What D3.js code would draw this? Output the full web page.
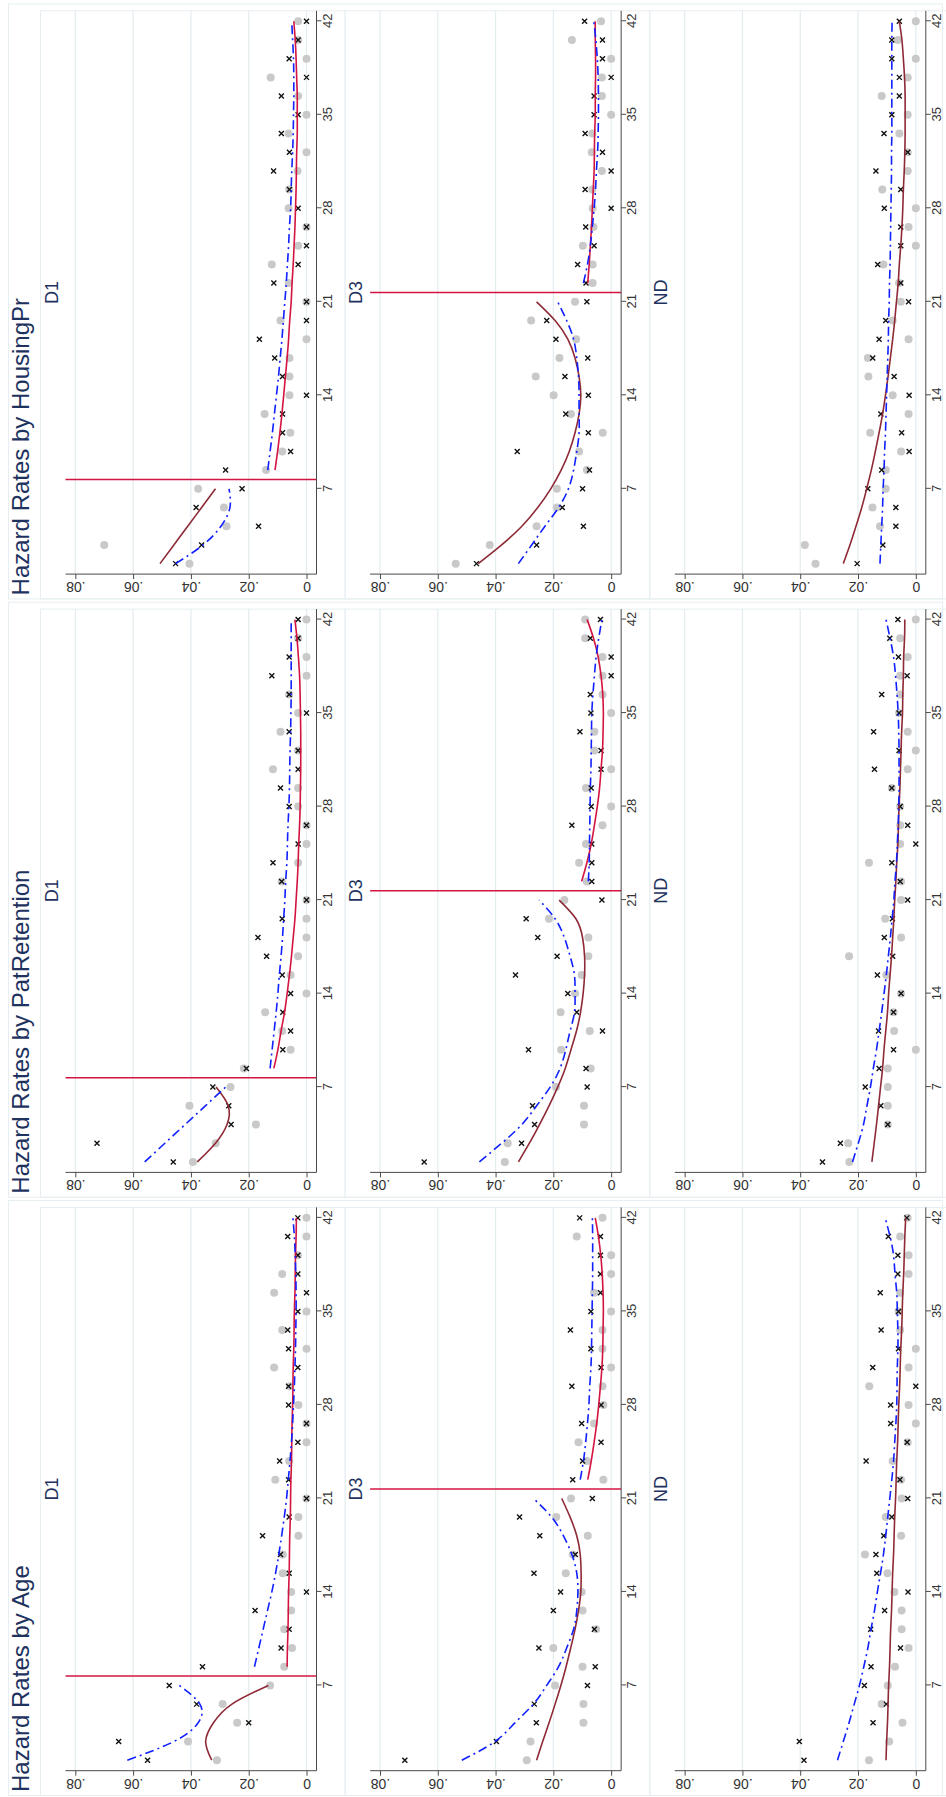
<!DOCTYPE html>
<html><head><meta charset="utf-8">
<script src="https://cdn.jsdelivr.net/npm/d3@7"></script>
<style>body{margin:0;background:#fff} svg{display:block} text{font-family:"Liberation Sans",Arial,sans-serif}</style>
</head><body>
<script>
// ---------- data ----------
const weeks = [1.4,2.8,4.2,5.6,7,8.4,9.8,11.2,12.6,14,15.4,16.8,18.2,19.6,21,22.4,23.8,25.2,26.6,28,29.4,30.8,32.2,33.6,35,36.4,37.8,39.2,40.6,42];
const weekTicks = [7,14,21,28,35,42];
const hazardTicks = [0,0.02,0.04,0.06,0.08];
const hazardTickLabels = ["0",".02",".04",".06",".08"];
const panelTitles = ["Hazard Rates by Age","Hazard Rates by PatRetention","Hazard Rates by HousingPr"];
const rowLabels = ["D1","D3","ND"];
const breakWeeks = [7.7, 21.7, null];

// Age
const ageD1Dots  = [.031,.041,.024,.029,.0126,.0077,.005,.0077,.0053,.0053,.0082,.0082,.0028,.0028,0,.0108,.006,0,0,.0028,.0057,.0112,0,.0084,0,.0112,.0084,.003,0,0];
const ageD1Cross = [.055,.065,.020,.038,.0475,.036,.0088,.006,.0178,0,.006,.009,.0152,.006,0,.0062,.0093,.003,0,.0062,.0062,.003,.0062,.0065,.003,0,.003,.003,.0065,.003];
const ageD1Red   = [.0328,.0349,.0322,.0258,.0132,.0067,.0066,.0064,.0063,.0062,.006,.0059,.0058,.0056,.0055,.0054,.0052,.0051,.005,.0048,.0047,.0046,.0044,.0043,.0042,.004,.0039,.0038,.0036,.0035];
const ageD1Blue  = [.062,.0459,.0375,.0369,.044,.018,.0165,.015,.0135,.012,.0107,.0096,.0086,.0077,.0069,.0063,.0057,.0052,.0048,.0045,.0042,.004,.0038,.0037,.0036,.0036,.0037,.0039,.0042,.0047];
const ageD3Dots  = [.0292,.0279,.0096,.0096,.0194,.0099,.020,.0052,.0099,.0102,.0157,.0133,.0081,.019,.0139,.0027,.0084,.0113,.0059,.0027,.003,0,.003,.003,0,.0059,0,0,.0119,.003];
const ageD3Cross = [.0714,.0397,.0259,.0266,.0082,.0055,.025,.0058,.020,.0175,.0267,.0124,.0247,.0317,.0065,.0133,.0099,.0035,.0102,.0035,.0136,.0035,.007,.0141,.007,.0037,.0037,.0037,.0037,.0109];
const ageD3Red   = [.0258,.0237,.0215,.0194,.0174,.0156,.014,.0125,.0113,.0105,.0104,.0107,.0119,.0142,.0171,.0081,.0069,.0059,.005,.0043,.0037,.0032,.0029,.0028,.0027,.0028,.0031,.0036,.0044,.0055];
const ageD3Blue  = [.0517,.0402,.0333,.0269,.0223,.0182,.0154,.013,.0119,.0115,.0119,.0136,.0165,.0206,.0269,.0107,.0096,.0088,.0082,.0077,.0074,.007,.0068,.0067,.0066,.0065,.0064,.0064,.0064,.0065];
const ageNDDots  = [.0162,.0092,.0046,.0118,.0097,.0072,.0025,.0049,.0049,.0074,.0098,.0176,.0051,.0104,.0049,.0051,.008,.0028,0,.0025,.0161,.0025,0,.0054,.006,.0054,.0025,.0025,.0054,.0028];
const ageNDCross = [.0387,.0403,.0148,.0102,.0178,.0155,.0053,.0156,.0108,.0027,.0135,.0138,.0111,.0083,.0028,.0055,.0172,.003,.0087,.0087,0,.0149,.006,.012,.006,.0123,.0062,.0062,.0095,.0031];
const ageNDRed   = [.0103,.0101,.0098,.0096,.0094,.0091,.0089,.0087,.0084,.0082,.008,.0077,.0075,.0073,.007,.0068,.0066,.0063,.0061,.0059,.0056,.0054,.0052,.0049,.0047,.0045,.0042,.004,.0038,.0035];
const ageNDBlue  = [.0271,.0251,.0231,.0213,.0195,.018,.0166,.0155,.0143,.0133,.0122,.0112,.0104,.0097,.009,.0083,.0077,.0073,.0069,.0066,.0065,.0064,.0062,.0062,.0064,.0066,.0072,.0077,.0089,.0106];
// PatRetention
const patD1Dots  = [.0393,.0314,.0175,.0405,.0263,.0217,.0055,.0084,.0143,0,.0055,.0029,0,0,0,.0086,.0029,0,0,.0029,.0029,.0116,.0029,.009,.0029,.006,0,0,.0029,0];
const patD1Cross = [.0461,.0725,.0261,.0269,.0324,.0208,.0082,.0055,.0082,.0055,.0084,.0138,.0168,.0084,0,.0086,.0116,.0029,0,.006,.009,.0029,.0029,.006,0,.006,.012,.006,.0029,.0029];
const patD1Red   = [.0378,.0315,.0275,.0271,.0313,.0113,.0099,.0088,.0076,.0067,.0059,.0052,.0046,.004,.0036,.0032,.0029,.0027,.0024,.0022,.0021,.002,.002,.002,.0021,.0022,.0024,.0028,.0033,.004];
const patD1Blue  = [.056,.049,.042,.035,.028,.0126,.0119,.0112,.0105,.0099,.0094,.0088,.0083,.0079,.0075,.0072,.0068,.0066,.0064,.0061,.0059,.0058,.0057,.0055,.0054,.0053,.0053,.0053,.0053,.0053];
const patD3Dots  = [.0368,.0358,.0094,.0094,.0191,.0071,.0173,.0074,.0175,.0125,.0102,.0079,.0079,.0215,.0162,.0084,.0111,.0087,.003,0,.0087,0,.0058,.0058,0,.003,.003,.003,.009,.009];
const patD3Cross = [.0647,.031,.0265,.0272,.0083,.0087,.0286,.003,.0119,.015,.0331,.0187,.0254,.0294,.0032,.0067,.0067,.0067,.0136,.0069,.0069,.0035,.0035,.0108,.007,.0072,0,0,.0072,.0037];
const patD3Red   = [.0321,.0283,.0248,.0215,.0185,.0159,.0139,.012,.0106,.0097,.0092,.0092,.0099,.0122,.018,.0102,.0084,.0069,.0058,.0048,.004,.0035,.003,.0028,.0027,.0029,.0035,.0045,.0061,.0083];
const patD3Blue  = [.0456,.0379,.0309,.0258,.0211,.0177,.0157,.0142,.0127,.0125,.0127,.0142,.0162,.0194,.0249,.0079,.0076,.0075,.0074,.0073,.0072,.007,.0069,.0068,.0067,.0063,.0058,.0052,.0043,.0032];
const patNDDots  = [.023,.0234,.0097,.0097,.0097,.0097,0,.0075,.0077,.0051,.0102,.0231,.0051,.0106,.0051,.0051,.0162,.0054,.0054,.0054,.0083,.0028,0,.0028,.0058,.0054,.0054,.0028,.0054,0];
const patNDCross = [.0323,.0261,.0097,.0121,.0175,.0127,.0077,.0129,.0077,.0051,.0133,.008,.0109,.0081,.0028,.0054,.0083,0,.0028,.0054,.0083,.0143,.0058,.0146,.0058,.0118,.003,.006,.009,.0062];
const patNDRed   = [.0152,.0144,.0136,.0129,.0122,.0115,.011,.0104,.0098,.0094,.0089,.0084,.008,.0076,.0073,.0069,.0066,.0062,.006,.0058,.0055,.0053,.0051,.0049,.0046,.0045,.0043,.0042,.0039,.0038];
const patNDBlue  = [.0219,.0199,.0181,.0169,.0157,.0147,.0136,.0127,.0118,.011,.0102,.0095,.0088,.0082,.0076,.0072,.0067,.0064,.0061,.0059,.0058,.0058,.0058,.0059,.0061,.0065,.007,.0077,.0089,.0103];
// HousingPr
const houD1Dots  = [.0405,.070,.0277,.0286,.0375,.014,.0084,.0056,.0145,.0059,.0059,.0059,0,.009,0,.0062,.012,.0029,0,.0062,.006,.0031,0,.0062,0,.0029,.0124,0,.0029,.0029];
const houD1Cross = [.0453,.0363,.0166,.0382,.0223,.028,.0055,.0083,.0083,0,.0083,.011,.0163,0,0,.0113,.0029,0,0,.0029,.0059,.0114,.0059,.0087,.0029,.0087,0,.006,.0029,0];
const houD1Red   = [.0507,.0459,.0411,.0363,.0315,.0109,.01,.0092,.0085,.0079,.0073,.0067,.0062,.0058,.0053,.005,.0046,.0043,.004,.0038,.0036,.0035,.0034,.0032,.0032,.0032,.0034,.0036,.0039,.0044];
const houD1Blue  = [.0453,.0358,.0296,.0265,.0268,.0134,.0126,.0118,.0111,.0104,.0097,.0091,.0085,.008,.0075,.007,.0066,.0062,.0059,.0055,.0053,.0051,.0048,.0046,.0045,.0044,.0044,.0045,.0048,.0051];
const houD3Dots  = [.0538,.042,.0258,.0188,.0188,.0084,.0111,.0029,.0139,.0199,.0261,.0179,.0121,.0277,.0125,.0064,.0064,.0098,.0061,.0064,.0065,.0032,.0067,.0065,0,.0032,.0032,0,.0136,.0035];
const houD3Cross = [.0466,.0258,.0096,.0169,.0099,.0075,.0325,.0079,.0157,.0079,.016,.0081,.0191,.0223,.0084,.0087,.0116,.0059,.0088,0,.009,0,.003,.009,.0059,.0059,0,.003,.003,.0092];
const houD3Red   = [.046,.0379,.0309,.0254,.0209,.0173,.0145,.0125,.0111,.0105,.0111,.0125,.015,.0194,.0258,.0081,.0076,.0072,.0068,.0065,.0062,.0059,.0058,.0057,.0055,.0055,.0054,.0054,.0055,.0055];
const houD3Blue  = [.0321,.0275,.0229,.0182,.0148,.013,.0119,.0111,.0111,.0111,.0113,.0119,.013,.0154,.0185,.0096,.0082,.0072,.0065,.0059,.0054,.0051,.0047,.0045,.0044,.0044,.0045,.0048,.0053,.006];
const houNDDots  = [.0347,.0384,.0124,.015,.0104,.0104,.0051,.0158,.0025,.008,.0164,.0166,.0025,.008,.0052,.0058,.0112,0,.0025,0,.0116,.0028,.0028,.0057,.0028,.0118,.0028,0,.0062,0];
const houNDCross = [.0203,.0114,.0069,.0069,.0166,.0118,.0023,.0049,.0121,.0023,.0075,.0149,.0127,.0104,.0025,.0052,.0132,.0052,.0052,.0109,.0052,.0138,.0028,.011,.0083,.0057,.0057,.0083,.0083,.0057];
const houNDRed   = [.0251,.0228,.0207,.0187,.017,.0154,.014,.0127,.0115,.0105,.0096,.0088,.008,.0073,.0067,.0061,.0057,.0052,.0048,.0045,.0043,.004,.0038,.0037,.0037,.0037,.0039,.0043,.0048,.0057];
const houNDBlue  = [.0124,.0121,.0118,.0115,.0113,.011,.0108,.0105,.0103,.0101,.0099,.0097,.0095,.0094,.0092,.0091,.0089,.0088,.0087,.0086,.0085,.0084,.0084,.0083,.0083,.0083,.0083,.0083,.0083,.0082];

const panels = [
  [[ageD1Dots,ageD1Cross,ageD1Red,ageD1Blue],[ageD3Dots,ageD3Cross,ageD3Red,ageD3Blue],[ageNDDots,ageNDCross,ageNDRed,ageNDBlue]],
  [[patD1Dots,patD1Cross,patD1Red,patD1Blue],[patD3Dots,patD3Cross,patD3Red,patD3Blue],[patNDDots,patNDCross,patNDRed,patNDBlue]],
  [[houD1Dots,houD1Cross,houD1Red,houD1Blue],[houD3Dots,houD3Cross,houD3Red,houD3Blue],[houNDDots,houNDCross,houNDRed,houNDBlue]]
];

// ---------- drawing ----------
const W = 946, H = 1797;
const C = {dot:"#c9c9c9", cross:"#111", maroon:"#8e2a36", crimson:"#d41440", blue:"#1020ff",
           grid:"#e3ecef", border:"#e6eef1", axis:"#4a4a4a", text:"#333", title:"#1e3260"};
const svg = d3.select("body").append("svg").attr("width", W).attr("height", H);
svg.append("rect").attr("width", W).attr("height", H).attr("fill", "#fff");
// landscape frame (1797 x 946) rotated to portrait
const g = svg.append("g").attr("transform", `translate(0,${H}) rotate(-90) translate(0,-1.5)`);

const panelPitch = 598.3, rowPitch = 304.65;
const plotL = 26.3, plotR = 589.6, plotTop = 67, plotBot = 318;

const lineGen = (x, y) => d3.line().x(d => x(d[0])).y(d => y(d[1])).curve(d3.curveNatural);

panels.forEach((rows, pi) => {
  const px = pi * panelPitch;
  const x = d3.scaleLinear().domain([0.616, 42.784]).range([px + plotL, px + plotR]);
  const pg = g.append("g");
  pg.append("rect").attr("x", px + 1.5).attr("y", 10).attr("width", 595).attr("height", 934)
    .attr("fill", "none").attr("stroke", C.border).attr("stroke-width", 1);
  pg.append("text").text(panelTitles[pi]).attr("x", px + 5).attr("y", 30)
    .attr("font-size", 24).attr("fill", C.title);

  rows.forEach((series, ri) => {
    const [dots, cross, red, blue] = series;
    const oy = ri * rowPitch;
    const y = d3.scaleLinear().domain([-0.00346, 0.0834]).range([oy + plotBot, oy + plotTop]);
    const rg = pg.append("g");
    rg.append("rect").attr("x", px + 1.5).attr("y", oy + 42).attr("width", plotR - 1.5).attr("height", rowPitch)
      .attr("fill", "none").attr("stroke", C.border).attr("stroke-width", 1);
    rg.selectAll(".grid").data(hazardTicks).join("line")
      .attr("x1", px + plotL).attr("x2", px + plotR)
      .attr("y1", d => y(d)).attr("y2", d => y(d))
      .attr("stroke", C.grid).attr("stroke-width", 1.2);
    rg.append("text").text(rowLabels[ri]).attr("x", (x.range()[0] + x.range()[1]) / 2).attr("y", oy + 59)
      .attr("text-anchor", "middle").attr("font-size", 18).attr("fill", C.title);
    const bw = breakWeeks[ri];
    if (bw !== null) {
      rg.append("line").attr("x1", x(bw)).attr("x2", x(bw)).attr("y1", oy + plotTop).attr("y2", oy + plotBot)
        .attr("stroke", C.crimson).attr("stroke-width", 1.6);
    }
    rg.selectAll(".dot").data(dots.map((v, i) => [weeks[i], v])).join("circle")
      .attr("cx", d => x(d[0])).attr("cy", d => y(d[1])).attr("r", 4).attr("fill", C.dot);
    const s = 2.5;
    rg.selectAll(".cross").data(cross.map((v, i) => [weeks[i], v])).join("path")
      .attr("d", d => { const cx = x(d[0]), cy = y(d[1]);
        return `M${cx-s},${cy-s}L${cx+s},${cy+s}M${cx-s},${cy+s}L${cx+s},${cy-s}`; })
      .attr("stroke", C.cross).attr("stroke-width", 1.4).attr("fill", "none");
    const lg = lineGen(x, y);
    const nFirst = bw === null ? 30 : weeks.filter(w => w < bw).length;
    const segs = bw === null ? [[0, 30]] : [[0, nFirst], [nFirst, 30]];
    segs.forEach((sg, si) => {
      const rd = red.slice(sg[0], sg[1]).map((v, i) => [weeks[sg[0] + i], v]);
      const bd = blue.slice(sg[0], sg[1]).map((v, i) => [weeks[sg[0] + i], v]);
      rg.append("path").attr("d", lg(rd)).attr("fill", "none")
        .attr("stroke", (bw !== null && si === 1) ? C.crimson : C.maroon).attr("stroke-width", 1.6);
      rg.append("path").attr("d", lg(bd)).attr("fill", "none")
        .attr("stroke", C.blue).attr("stroke-width", 1.6).attr("stroke-dasharray", "9,4,2,4");
    });
    const ax = rg.append("g").attr("transform", `translate(0,${oy + plotBot})`)
      .call(d3.axisBottom(x).tickValues(weekTicks).tickSize(5).tickPadding(1).tickFormat(d3.format("d")));
    ax.select(".domain").attr("d", `M${px + plotL},0H${px + plotR}`);
    ax.selectAll(".tick text").attr("font-size", 13);
    const ay = rg.append("g").attr("transform", `translate(${px + plotL},0)`)
      .call(d3.axisLeft(y).tickValues(hazardTicks).tickSize(5).tickFormat((d, i) => hazardTickLabels[i]));
    ay.select(".domain").attr("d", `M0,${oy + plotTop}V${oy + plotBot}`);
    ay.selectAll(".tick text").attr("x", null).attr("dy", null).attr("text-anchor", "middle")
      .attr("transform", "translate(-8,0) rotate(-90)").attr("font-size", 14);
    [ax, ay].forEach(a => {
      a.selectAll(".domain").attr("stroke", C.axis);
      a.selectAll(".tick line").attr("stroke", C.axis);
      a.selectAll(".tick text").attr("fill", C.text)
        .attr("font-family", '"Liberation Sans",Arial,sans-serif');
    });
  });
});
</script>
</body></html>
